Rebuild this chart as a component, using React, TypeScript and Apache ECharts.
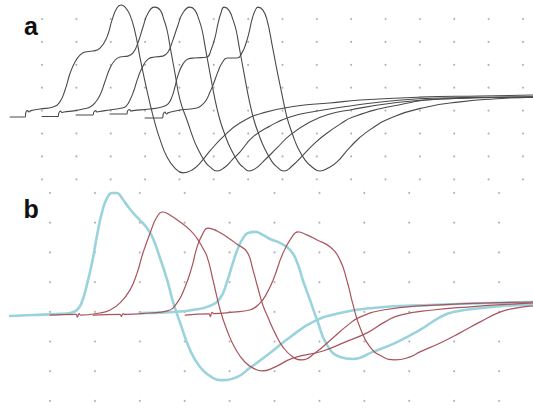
import React, { useEffect, useRef } from "react";
import * as echarts from "echarts";

// Grid dot positions (in divisions)
const gridColsA = [0, 1, 2, 3, 4, 5, 6, 7, 8, 9, 10, 11, 12, 13, 14];
const gridRowsA = [-3, -2, -1, 0, 1, 2, 3, 4];
const gridColsB = [0, 1, 2, 3, 4, 5, 6, 7, 8, 9, 10];
const gridRowsB = [-3, -2, -1, 0, 1, 2, 3, 4];

// Panel a traces: [time (div), amplitude (div)]
const traceA1: [number, number][] = [
  [-0.93, -0.28], [-0.49, -0.28], [-0.47, -0.08], [-0.42, 0.0], [-0.38, -0.06], [-0.32, 0.0],
  [-0.06, 0.07], [0.32, 0.16], [0.52, 0.38], [0.67, 0.9], [0.82, 1.64], [0.96, 2.12],
  [1.11, 2.43], [1.25, 2.56], [1.48, 2.6], [1.69, 2.73], [1.89, 3.21], [2.04, 3.96],
  [2.18, 4.48], [2.3, 4.61], [2.42, 4.52], [2.56, 4.18], [2.71, 3.43], [2.85, 2.34],
  [3.0, 1.25], [3.14, 0.33], [3.28, -0.5], [3.44, -1.28], [3.64, -2.03], [3.87, -2.51],
  [4.1, -2.72], [4.37, -2.59], [4.6, -2.29], [4.89, -1.76], [5.27, -1.15], [5.76, -0.54],
  [6.43, -0.1], [7.42, 0.2], [8.38, 0.33], [9.26, 0.46], [11.0, 0.59], [12.75, 0.64], [14.29, 0.68],
];
const traceA2: [number, number][] = [
  [0.0, -0.26], [0.47, -0.26], [0.49, -0.1], [0.54, -0.02], [0.58, -0.08], [0.64, -0.06],
  [0.96, 0.0], [1.19, 0.07], [1.4, 0.16], [1.54, 0.33], [1.69, 0.68], [1.83, 1.25],
  [1.98, 1.86], [2.13, 2.21], [2.27, 2.34], [2.5, 2.38], [2.65, 2.52], [2.79, 2.95],
  [2.94, 3.65], [3.09, 4.26], [3.28, 4.52], [3.44, 4.39], [3.55, 3.96], [3.64, 3.52],
  [3.73, 2.78], [3.87, 1.64], [4.02, 0.46], [4.25, -0.54], [4.37, -1.07], [4.51, -1.59],
  [4.75, -2.24], [4.89, -2.46], [5.09, -2.64], [5.33, -2.46], [5.53, -2.16], [5.76, -1.81],
  [6.14, -1.15], [6.64, -0.67], [7.22, -0.28], [8.01, -0.02], [8.97, 0.2], [10.13, 0.42],
  [11.59, 0.55], [14.29, 0.59],
];
const traceA3: [number, number][] = [
  [0.99, -0.19], [1.48, -0.19], [1.51, -0.06], [1.56, 0.0], [1.6, -0.06], [1.66, -0.04],
  [1.98, 0.03], [2.33, 0.11], [2.45, 0.2], [2.56, 0.46], [2.68, 0.9], [2.79, 1.42],
  [2.94, 1.95], [3.09, 2.25], [3.28, 2.34], [3.52, 2.38], [3.67, 2.56], [3.81, 3.08],
  [3.96, 3.74], [4.1, 4.26], [4.31, 4.52], [4.45, 4.39], [4.57, 3.96], [4.66, 3.52],
  [4.75, 2.78], [4.89, 1.64], [5.04, 0.46], [5.18, -0.41], [5.33, -1.07], [5.47, -1.59],
  [5.71, -2.24], [5.85, -2.46], [6.03, -2.64], [6.23, -2.51], [6.43, -2.24], [6.84, -1.63],
  [7.22, -1.07], [7.8, -0.5], [8.38, -0.15], [8.97, 0.03], [10.22, 0.33], [11.59, 0.51], [14.29, 0.59],
];
const traceA4: [number, number][] = [
  [1.98, -0.15], [2.47, -0.15], [2.49, -0.02], [2.55, 0.05], [2.59, -0.02], [2.65, 0.0],
  [3.14, 0.07], [3.49, 0.16], [3.67, 0.29], [3.78, 0.59], [3.87, 1.03], [3.96, 1.55],
  [4.1, 2.03], [4.25, 2.25], [4.45, 2.3], [4.8, 2.34], [4.92, 2.65], [5.04, 3.21],
  [5.12, 3.78], [5.21, 4.26], [5.3, 4.52], [5.44, 4.39], [5.56, 3.96], [5.65, 3.52],
  [5.74, 2.78], [5.88, 1.64], [6.03, 0.46], [6.17, -0.41], [6.32, -1.07], [6.46, -1.59],
  [6.7, -2.24], [6.84, -2.46], [7.04, -2.64], [7.28, -2.42], [7.6, -1.94], [7.95, -1.41],
  [8.3, -0.98], [8.68, -0.59], [9.05, -0.28], [10.22, 0.2], [11.67, 0.51], [14.29, 0.59],
];
const traceA5: [number, number][] = [
  [3.0, -0.32], [3.51, -0.32], [3.53, -0.15], [3.58, -0.06], [3.62, -0.15], [3.67, -0.1],
  [4.02, 0.03], [4.51, 0.11], [4.69, 0.29], [4.8, 0.51], [4.89, 0.81], [4.98, 1.12],
  [5.12, 1.69], [5.24, 2.08], [5.39, 2.3], [5.68, 2.3], [5.82, 2.52], [5.94, 2.95],
  [6.03, 3.43], [6.11, 3.96], [6.2, 4.35], [6.29, 4.52], [6.43, 4.39], [6.55, 3.96],
  [6.7, 2.86], [6.84, 1.77], [6.99, 0.68], [7.13, -0.28], [7.28, -0.98], [7.45, -1.63],
  [7.66, -2.16], [7.86, -2.46], [8.09, -2.64], [8.33, -2.51], [8.59, -2.24], [8.97, -1.59],
  [9.46, -0.93], [10.22, -0.28], [11.21, 0.16], [12.17, 0.38], [13.13, 0.51], [14.29, 0.59],
];

// Panel b traces
const cyanB1: [number, number][] = [
  [-0.89, -0.14], [-0.38, -0.11], [0.22, -0.07], [0.45, -0.04], [0.6, 0.06], [0.71, 0.33],
  [0.82, 0.9], [0.94, 1.68], [1.05, 2.59], [1.16, 3.36], [1.27, 3.83], [1.38, 4.0],
  [1.49, 4.0], [1.6, 3.83], [1.71, 3.6], [1.85, 3.33], [2.0, 3.09], [2.16, 2.82],
  [2.29, 2.48], [2.45, 1.81], [2.61, 1.07], [2.74, 0.33], [2.9, -0.38], [3.12, -1.29],
  [3.34, -1.86], [3.56, -2.16], [3.79, -2.3], [4.16, -2.2], [4.45, -1.89], [4.9, -1.39],
  [5.35, -0.85], [5.86, -0.34], [6.46, -0.04], [7.19, 0.13], [8.46, 0.23], [10.76, 0.33],
];
const cyanB2: [number, number][] = [
  [2.0, -0.04], [2.67, -0.01], [3.18, 0.06], [3.56, 0.2], [3.79, 0.46], [3.94, 1.0],
  [4.08, 1.68], [4.19, 2.15], [4.3, 2.48], [4.41, 2.65], [4.57, 2.69], [4.74, 2.59],
  [4.9, 2.45], [5.12, 2.32], [5.35, 2.08], [5.5, 1.68], [5.63, 1.07], [5.79, 0.4],
  [5.95, -0.28], [6.17, -1.12], [6.46, -1.52], [6.75, -1.59], [7.19, -1.35], [7.73, -1.02],
  [8.24, -0.61], [8.69, -0.18], [8.98, -0.01], [9.64, 0.13], [10.76, 0.26],
];
const redB1: [number, number][] = [
  [0.0, -0.11], [0.58, -0.09], [0.61, -0.18], [0.65, -0.06], [0.68, -0.11], [1.11, -0.04],
  [1.34, 0.06], [1.56, 0.3], [1.78, 0.73], [1.94, 1.31], [2.07, 1.98], [2.23, 2.65],
  [2.38, 3.19], [2.52, 3.36], [2.67, 3.26], [2.9, 3.02], [3.12, 2.75], [3.27, 2.48],
  [3.39, 2.18], [3.5, 1.85], [3.63, 1.07], [3.79, 0.06], [3.94, -0.61], [4.12, -1.22],
  [4.34, -1.69], [4.57, -1.93], [4.72, -1.99], [4.97, -1.89], [5.41, -1.56], [6.08, -1.32],
  [6.57, -1.02], [7.06, -0.71], [7.46, -0.34], [7.8, -0.11], [8.53, 0.06], [9.29, 0.16], [10.76, 0.3],
];
const redB2: [number, number][] = [
  [0.96, -0.11], [1.56, -0.09], [1.59, -0.16], [1.63, -0.06], [1.67, -0.09], [2.23, -0.04],
  [2.61, 0.03], [2.83, 0.3], [3.01, 0.84], [3.16, 1.51], [3.27, 2.15], [3.39, 2.59],
  [3.52, 2.82], [3.72, 2.72], [3.94, 2.52], [4.16, 2.28], [4.39, 2.01], [4.52, 1.41],
  [4.63, 0.8], [4.74, 0.23], [4.86, -0.21], [5.01, -0.71], [5.19, -1.19], [5.41, -1.52],
  [5.61, -1.62], [5.9, -1.39], [6.3, -0.88], [6.64, -0.44], [6.9, -0.18], [7.42, 0.06],
  [8.24, 0.2], [10.76, 0.33],
];
const redB3: [number, number][] = [
  [3.01, -0.11], [3.54, -0.07], [3.57, -0.16], [3.61, -0.02], [3.65, -0.06], [4.08, -0.01],
  [4.45, 0.06], [4.68, 0.3], [4.83, 0.63], [4.97, 1.07], [5.19, 1.98], [5.39, 2.52],
  [5.52, 2.69], [5.72, 2.59], [5.95, 2.42], [6.24, 2.18], [6.46, 1.74], [6.61, 1.07],
  [6.75, 0.23], [6.9, -0.51], [7.13, -1.19], [7.42, -1.52], [7.68, -1.62], [8.02, -1.52],
  [8.24, -1.35], [8.69, -1.05], [9.13, -0.71], [9.58, -0.34], [10.02, -0.01], [10.4, 0.13], [10.76, 0.2],
];

const panelLabels = ["a", "b"];

function dotTable(cols: number[], rows: number[]): number[][] {
  const out: number[][] = [];
  cols.forEach((c) => rows.forEach((r) => out.push([c, r])));
  return out;
}

const GRAY = "#4a4a4a";
const CYAN = "#9ad3dc";
const RED = "#a9545b";

function lineSeries(data: [number, number][], idx: number, color: string, width: number, z: number) {
  return {
    type: "line",
    xAxisIndex: idx,
    yAxisIndex: idx,
    data,
    showSymbol: false,
    symbol: "none",
    smooth: 0.5,
    silent: true,
    z,
    lineStyle: { color, width, cap: "round", join: "round" },
    emphasis: { disabled: true },
  };
}

export default function App() {
  const ref = useRef<HTMLDivElement>(null);
  useEffect(() => {
    document.body.style.margin = "0";
    const chart = echarts.init(ref.current as HTMLDivElement, null, { renderer: "svg" });
    const option = {
      animation: false,
      backgroundColor: "#ffffff",
      grid: [
        { left: 0, right: 0, top: 0, height: 190 },
        { left: 0, right: 0, top: 185, height: 224 },
      ],
      xAxis: [
        { type: "value", gridIndex: 0, min: -1.223, max: 14.294, show: false },
        { type: "value", gridIndex: 1, min: -1.1136, max: 10.757, show: false },
      ],
      yAxis: [
        { type: "value", gridIndex: 0, min: -3.467, max: 4.83, show: false },
        { type: "value", gridIndex: 1, min: -3.273, max: 4.269, show: false },
      ],
      graphic: [
        {
          type: "text",
          x: 24,
          y: 26,
          style: {
            text: panelLabels[0],
            font: 'bold 25px "Liberation Sans", Arial, sans-serif',
            fill: "#111",
            verticalAlign: "middle",
          },
        },
        {
          type: "text",
          x: 23.5,
          y: 209,
          style: {
            text: panelLabels[1],
            font: 'bold 25px "Liberation Sans", Arial, sans-serif',
            fill: "#111",
            verticalAlign: "middle",
          },
        },
      ],
      series: [
        {
          type: "scatter",
          xAxisIndex: 0,
          yAxisIndex: 0,
          data: dotTable(gridColsA, gridRowsA),
          symbolSize: 2,
          itemStyle: { color: "#a0a0a0" },
          silent: true,
          z: 1,
        },
        {
          type: "scatter",
          xAxisIndex: 1,
          yAxisIndex: 1,
          data: dotTable(gridColsB, gridRowsB),
          symbolSize: 2,
          itemStyle: { color: "#a0a0a0" },
          silent: true,
          z: 1,
        },
        lineSeries(traceA1, 0, GRAY, 1.1, 3),
        lineSeries(traceA2, 0, GRAY, 1.1, 3),
        lineSeries(traceA3, 0, GRAY, 1.1, 3),
        lineSeries(traceA4, 0, GRAY, 1.1, 3),
        lineSeries(traceA5, 0, GRAY, 1.1, 3),
        lineSeries(cyanB1, 1, CYAN, 2.6, 2),
        lineSeries(cyanB2, 1, CYAN, 2.6, 2),
        lineSeries(redB1, 1, RED, 1.2, 3),
        lineSeries(redB2, 1, RED, 1.2, 3),
        lineSeries(redB3, 1, RED, 1.2, 3),
      ],
    };
    chart.setOption(option as any);
    return () => chart.dispose();
  }, []);
  return (
    <div
      ref={ref}
      style={{ position: "fixed", left: 0, top: 0, width: 533, height: 409, background: "#fff" }}
    />
  );
}
